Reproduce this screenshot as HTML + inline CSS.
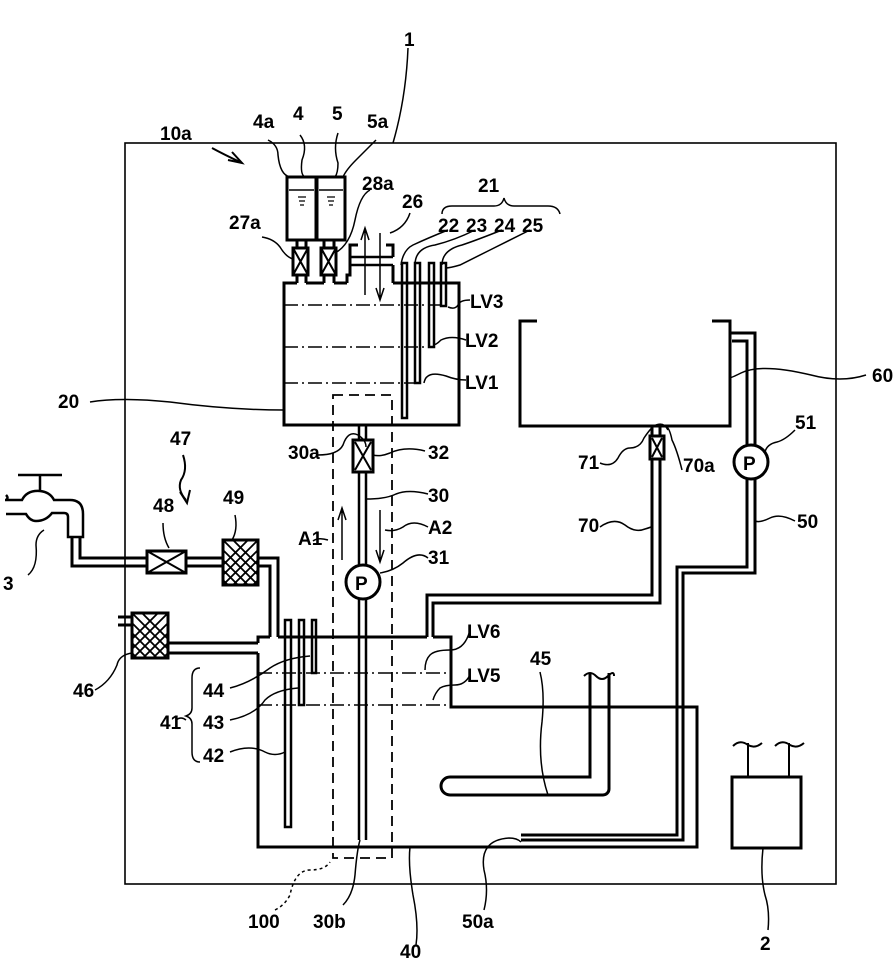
<!DOCTYPE html>
<html><head><meta charset="utf-8"><style>
html,body{margin:0;padding:0;background:#fff}
svg{display:block}
text{font-family:"Liberation Sans",sans-serif;font-size:19px;font-weight:bold;fill:#000}
</style></head><body>
<svg width="896" height="958" viewBox="0 0 896 958" xmlns="http://www.w3.org/2000/svg">
<g fill="none" stroke="#000">
<rect x="125" y="143" width="711" height="741" stroke-width="1.6"/>
<g stroke-width="3">
<rect x="287" y="177" width="29" height="63"/>
<rect x="317" y="177" width="28" height="63"/>
<line x1="289" y1="190" x2="314" y2="190" stroke-width="1.5"/>
<line x1="319" y1="190" x2="343" y2="190" stroke-width="1.5"/>
<path d="M298,197 h8 M299,201 h6 M300,205 h4 M327,197 h8 M328,201 h6 M329,205 h4" stroke-width="1.2"/>
<path d="M297,240 V248 M306,240 V248 M297,275 V283 M306,275 V283"/>
<path d="M324,240 V248 M334,240 V248 M324,275 V283 M334,275 V283"/>
<rect x="293" y="248" width="15" height="27"/>
<rect x="321" y="248" width="15" height="27"/>
<path d="M293,248 L308,275 M308,248 L293,275" stroke-width="2"/>
<path d="M321,248 L336,275 M336,248 L321,275" stroke-width="2"/>
<path d="M297,283 H284 V425 H459 V283 H393 M306,283 H324 M334,283 H347"/>
<path d="M347,283 V275 H350 V245 H358 M393,283 V265 M386,245 H393 V257"/>
<path d="M350,257 H393 M350,265 H393" stroke-width="2.5"/>
<rect x="402" y="263" width="5" height="155" stroke-width="2.5"/>
<rect x="415" y="263" width="5" height="120" stroke-width="2.5"/>
<rect x="429" y="263" width="5" height="84" stroke-width="2.5"/>
<rect x="441" y="263" width="5" height="43" stroke-width="2.5"/>
<path d="M537,321 H520 V426 H730 V321 H712"/>
<path d="M730,333 H755 V573 H683 V840 H521 M732,341 H747 V567 H677 V835 H521"/>
<path d="M652,426 V436 M660,426 V436 M652,459 V595 H427 V637 M660,459 V603 H433 V637"/>
<rect x="650" y="436" width="14" height="23"/>
<path d="M652,438 L662,457 M662,438 L652,457" stroke-width="2"/>
<path d="M258,653 V847 H697 V707 H451 V637 H433 M427,637 H278 M270,637 H258 V643"/>
<rect x="353" y="440" width="20" height="32"/>
<path d="M355,442 L371,470 M371,442 L355,470" stroke-width="2"/>
<path d="M359,472 V565 M366,472 V565 M359,599 V840 M366,599 V840" stroke-width="2.5"/>
<path d="M359,425 V440 M366,425 V440" stroke-width="2.5"/>
<circle cx="363" cy="582" r="17" fill="#fff"/>
<circle cx="751" cy="462" r="17" fill="#fff"/>
<rect x="285" y="620" width="6" height="207" stroke-width="2.5"/>
<rect x="299" y="620" width="5" height="85" stroke-width="2.5"/>
<rect x="312" y="620" width="4" height="53" stroke-width="2.5"/>
<path d="M590,673 V777 H450 A9,9 0 0 0 450,795 H603 A6,6 0 0 0 609,789 V673"/>
<path d="M584,676 q6,-6 12,0 t12,0 t6,0" stroke-width="2"/>
<path d="M72,537 V566 H147 M80,537 V558 H147 M186,558 H223 M186,566 H223 M258,558 H278 V637 M258,566 H270 V637"/>
<rect x="147" y="551" width="39" height="22"/>
<path d="M147,551 L186,573 M186,551 L147,573" stroke-width="2"/>
<rect x="223" y="540" width="35" height="45"/>
<path d="M168,643 H258 M168,653 H258 M118,617 H132 M118,625 H132"/>
<rect x="132" y="613" width="36" height="45"/>
<!-- faucet -->
<path d="M18,475 H62 M40,475 V491" stroke-width="2.5"/>
<path d="M6,500 q3,-2 0,-5 M5,500 H22 q5,-10 18,-9 q10,1 14,9 H70 q13,0 13,14 V537 H68 V517 q0,-4 -4,-4 H52 q-6,8 -16,8 q-6,0 -10,-7 H6" stroke-width="2.5"/>
<rect x="732" y="777" width="69" height="71"/>
<path d="M748,777 V743 M789,777 V743" stroke-width="2"/>
<path d="M733,746 q7,-7 15,-1 q7,4 14,-2 M775,746 q7,-7 15,-1 q7,4 14,-2" stroke-width="2"/>
</g>
<g stroke-width="1.8">
<clipPath id="c49"><rect x="223" y="540" width="35" height="45"/></clipPath>
<clipPath id="c46"><rect x="132" y="613" width="36" height="45"/></clipPath>
<g clip-path="url(#c49)">
<path d="M213,540 l45,45 M223,540 l45,45 M233,540 l45,45 M213,550 l45,45 M213,560 l45,45 M213,570 l45,45 M268,540 l-45,45 M258,540 l-45,45 M248,540 l-45,45 M268,550 l-45,45 M268,560 l-45,45 M268,570 l-45,45 M203,540 l45,45 M278,540 l-45,45"/>
</g>
<g clip-path="url(#c46)">
<path d="M122,613 l45,45 M132,613 l45,45 M142,613 l45,45 M122,623 l45,45 M122,633 l45,45 M122,643 l45,45 M112,613 l45,45 M178,613 l-45,45 M168,613 l-45,45 M158,613 l-45,45 M178,623 l-45,45 M178,633 l-45,45 M178,643 l-45,45 M188,613 l-45,45"/>
</g>
</g>
<g stroke-width="1.5" stroke-dasharray="14,4,2,4">
<path d="M284,305 H441 M284,347 H429 M284,383 H415 M258,673 H450 M258,705 H450"/>
</g>
<rect x="333" y="395" width="59" height="463" stroke-width="1.8" stroke-dasharray="10,6"/>
<g stroke-width="1.5">
<path d="M365,295 V230 M361,240 L365,228 L369,240"/>
<path d="M380,233 V298 M376,288 L380,300 L384,288"/>
<path d="M342,560 V510 M338,520 L342,508 L346,520"/>
<path d="M380,510 V560 M376,550 L380,562 L384,550"/>
<path d="M212,148 Q225,155 240,162 M232,152 L242,163 L228,160" stroke-width="2"/>
<path d="M183,455 q5,15 -2,25 q-4,10 5,20 M180,492 L187,503 L190,490" stroke-width="2"/>
<path d="M442,214 q0,-8 10,-8 h42 q8,0 10,-8 q2,8 10,8 h34 q10,0 12,8"/>
<path d="M200,668 q-8,0 -8,10 v30 q0,6 -6,8 q6,2 6,8 v28 q0,10 8,10"/>
<path d="M408,48 q-2,50 -15,95"/>
<path d="M268,140 q10,5 10,15 q2,20 12,22"/>
<path d="M300,135 q8,10 2,25 q-2,15 3,17"/>
<path d="M338,133 q-5,15 0,30 q0,10 -3,14"/>
<path d="M376,140 q-10,10 -20,20 q-10,10 -13,17"/>
<path d="M262,237 q12,2 18,10 q6,10 13,12"/>
<path d="M370,190 q-10,5 -15,30 q-5,25 -20,33"/>
<path d="M410,213 q-5,15 -20,20"/>
<path d="M448,230 q-20,8 -35,15 q-10,5 -12,20"/>
<path d="M475,230 q-20,10 -40,15 q-20,3 -20,20"/>
<path d="M502,230 q-25,10 -40,15 q-20,5 -20,20"/>
<path d="M530,230 q-20,10 -40,20 q-20,10 -30,15 q-10,3 -15,3"/>
<path d="M470,300 q-10,0 -12,5 q-3,5 -10,2"/>
<path d="M466,340 q-15,-5 -25,0 q-5,5 -8,5"/>
<path d="M466,380 q-10,0 -20,-4 q-20,-6 -22,7"/>
<path d="M90,402 q30,-5 80,0 q60,8 114,8"/>
<path d="M318,455 q20,0 25,-10 q5,-15 15,-10 q8,5 8,12"/>
<path d="M425,451 q-20,-5 -35,2 q-10,4 -17,2"/>
<path d="M428,494 q-20,-5 -32,0 q-10,5 -30,5"/>
<path d="M428,527 q-15,-8 -25,0 q-8,5 -18,3"/>
<path d="M328,540 q-10,-3 -15,1"/>
<path d="M428,558 q-10,-8 -25,5 q-10,8 -23,10"/>
<path d="M600,463 q12,5 18,-5 q5,-10 12,-10 q10,0 14,-10 q8,-12 12,-13 q8,-3 12,5"/>
<path d="M682,470 q-5,-20 -10,-30 q-3,-15 -8,-14" />
<path d="M600,527 q14,-10 25,-2 q10,8 20,4 q10,-3 7,-3"/>
<path d="M866,375 q-25,8 -55,0 q-50,-12 -70,-2 q-10,5 -12,5"/>
<path d="M795,430 q-10,10 -18,12 q-10,2 -12,10"/>
<path d="M795,521 q-15,-8 -25,-3 q-10,5 -15,3"/>
<path d="M470,630 q-5,20 -20,20 q-15,0 -20,5 q-5,5 -5,15"/>
<path d="M470,675 q-5,10 -15,10 q-10,0 -15,3 q-5,5 -7,12"/>
<path d="M540,672 q5,20 2,50 q-5,40 6,73"/>
<path d="M95,690 q15,-8 22,-25 q2,-10 15,-12"/>
<path d="M230,688 q20,-5 40,-20 q15,-10 40,-12"/>
<path d="M230,720 q25,-5 35,-20 q10,-10 33,-12"/>
<path d="M230,752 q20,-8 35,0 q10,5 20,0"/>
<path d="M176,720 q5,-4 10,0"/>
<path d="M28,575 q10,-8 8,-30 q0,-10 8,-15"/>
<path d="M163,523 q0,15 6,25"/>
<path d="M235,515 q3,15 -3,25"/>
<path d="M416,945 q3,-20 -3,-50 q-5,-30 -3,-48"/>
<path d="M484,910 q5,-20 0,-40 q-5,-30 25,-32 q8,0 12,4"/>
<path d="M768,930 q2,-20 -3,-35 q-5,-20 -2,-47"/>
<path d="M343,905 q10,-10 12,-30 q2,-25 5,-35" />
<path d="M275,910 q10,-5 15,-15 q5,-25 20,-25 q15,0 20,-8" stroke-dasharray="3,3"/>
</g>
</g>
<g>
<text x="355" y="590" font-size="22">P</text>
<text x="743" y="470" font-size="22">P</text>
<text x="404" y="46" font-size="20">1</text>
<text x="160" y="140">10a</text>
<text x="253" y="128">4a</text>
<text x="293" y="120">4</text>
<text x="332" y="120">5</text>
<text x="367" y="128">5a</text>
<text x="478" y="192">21</text>
<text x="362" y="190">28a</text>
<text x="402" y="208">26</text>
<text x="229" y="229">27a</text>
<text x="438" y="232">22</text>
<text x="466" y="232">23</text>
<text x="494" y="232">24</text>
<text x="522" y="232">25</text>
<text x="470" y="308">LV3</text>
<text x="465" y="347">LV2</text>
<text x="465" y="389">LV1</text>
<text x="58" y="408">20</text>
<text x="872" y="382">60</text>
<text x="795" y="429">51</text>
<text x="170" y="445">47</text>
<text x="288" y="459">30a</text>
<text x="428" y="459">32</text>
<text x="578" y="469">71</text>
<text x="683" y="472">70a</text>
<text x="428" y="502">30</text>
<text x="797" y="528">50</text>
<text x="578" y="532">70</text>
<text x="153" y="512">48</text>
<text x="223" y="504">49</text>
<text x="298" y="545">A1</text>
<text x="428" y="534">A2</text>
<text x="428" y="564">31</text>
<text x="3" y="590">3</text>
<text x="467" y="638">LV6</text>
<text x="467" y="682">LV5</text>
<text x="530" y="665">45</text>
<text x="73" y="697">46</text>
<text x="203" y="697">44</text>
<text x="203" y="729">43</text>
<text x="160" y="729">41</text>
<text x="203" y="762">42</text>
<text x="248" y="928">100</text>
<text x="313" y="928">30b</text>
<text x="400" y="958">40</text>
<text x="462" y="928">50a</text>
<text x="760" y="950">2</text>
</g>
</svg>
</body></html>
